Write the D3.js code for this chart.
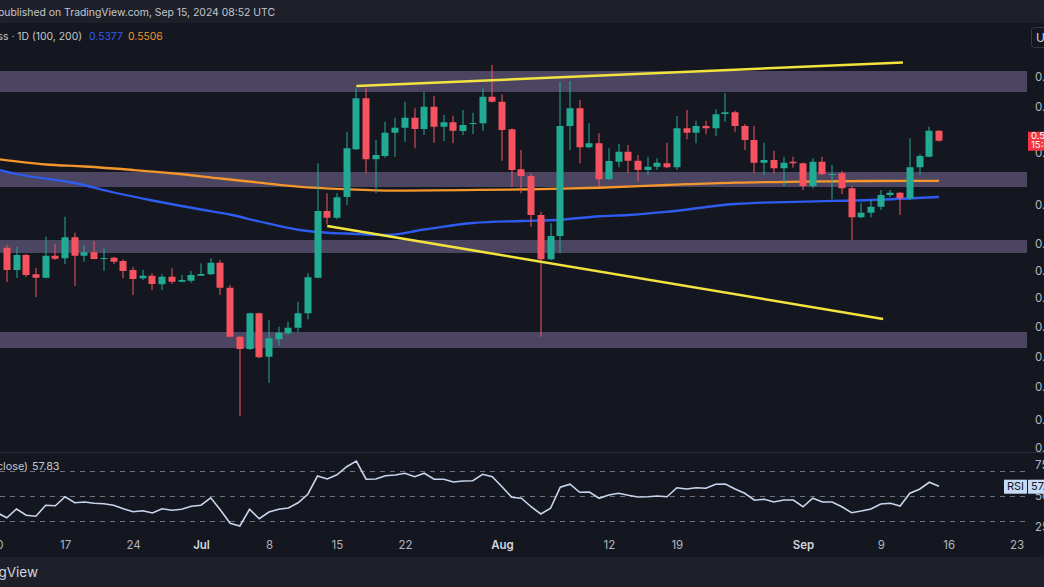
<!DOCTYPE html>
<html><head><meta charset="utf-8">
<script src="https://cdn.jsdelivr.net/npm/d3@7"></script>
<style>
html,body{margin:0;padding:0;background:#141720;overflow:hidden;}
svg{display:block;font-family:Inter,"Noto Sans",sans-serif;}
</style></head><body><svg id="c" width="1044" height="587"></svg>
<script>
// ---------------- DATA ----------------
const startDate = "2024-06-11";
const opens = [0.4971,0.4793,0.4913,0.4759,0.4731,0.4907,0.4887,0.5055,0.4907,0.4935,0.4881,0.4891,0.4865,0.4793,0.4727,0.4747,0.4679,0.4739,0.4699,0.4707,
0.4747,0.4759,0.4851,0.4651,0.4259,0.4161,0.4447,0.4099,0.4239,0.4287,0.4331,0.4447,0.4731,0.5265,0.5211,0.5377,0.5759,0.6167,0.5679,0.5705,
0.5891,0.5931,0.6011,0.5921,0.6099,0.5939,0.5975,0.5905,0.5961,0.5967,0.6179,0.6139,0.5919,0.5599,0.5545,0.5233,0.4879,0.5065,0.5945,0.6087,
0.5775,0.5807,0.5519,0.5659,0.5739,0.5667,0.5593,0.5619,0.5647,0.5615,0.5927,0.5891,0.5945,0.5927,0.6041,0.6055,0.5945,0.5833,0.5651,0.5673,
0.5607,0.5659,0.5647,0.5465,0.5659,0.5553,0.5567,0.5447,0.5215,0.5251,0.5299,0.5393,0.5411,0.5367,0.5615,0.5699,0.5907];
const highs = [0.4993,0.4977,0.4921,0.4809,0.5059,0.5001,0.5219,0.5091,0.4993,0.5025,0.4967,0.4899,0.4879,0.4819,0.4793,0.4767,0.4759,0.4807,0.4753,0.4785,
0.4847,0.4887,0.4873,0.4673,0.4265,0.4451,0.4451,0.4393,0.4339,0.4379,0.4539,0.4767,0.5647,0.5407,0.5407,0.5899,0.6247,0.6247,0.5833,0.5979,
0.6011,0.6139,0.6087,0.6215,0.6187,0.6033,0.6027,0.6073,0.6051,0.6247,0.6433,0.6199,0.5925,0.5753,0.5567,0.5259,0.5167,0.6297,0.6305,0.6153,
0.5967,0.5887,0.5767,0.5801,0.5793,0.5713,0.5699,0.5687,0.5811,0.6025,0.6073,0.5987,0.5987,0.6079,0.6207,0.6067,0.5961,0.5947,0.5811,0.5747,
0.5699,0.5699,0.5653,0.5687,0.5699,0.5633,0.5585,0.5465,0.5331,0.5353,0.5433,0.5433,0.5417,0.5847,0.5721,0.5939,0.5913];
const lows = [0.4697,0.4729,0.4737,0.4577,0.4727,0.4873,0.4841,0.4665,0.4859,0.4879,0.4787,0.4841,0.4727,0.4593,0.4713,0.4633,0.4633,0.4681,0.4695,0.4691,
0.4745,0.4753,0.4593,0.4255,0.3625,0.4153,0.4087,0.3891,0.4185,0.4273,0.4299,0.4399,0.4727,0.5159,0.5199,0.5313,0.5753,0.5567,0.5407,0.5691,
0.5699,0.5819,0.5767,0.5873,0.5811,0.5825,0.5807,0.5873,0.5881,0.5907,0.6133,0.5667,0.5459,0.5407,0.5139,0.4259,0.4873,0.4927,0.5753,0.5647,
0.5767,0.5459,0.5513,0.5615,0.5571,0.5499,0.5553,0.5593,0.5607,0.5593,0.5839,0.5807,0.5881,0.5865,0.5979,0.5899,0.5753,0.5571,0.5553,0.5567,
0.5465,0.5611,0.5433,0.5447,0.5553,0.5359,0.5401,0.5033,0.5207,0.5215,0.5273,0.5375,0.5233,0.5353,0.5553,0.5695,0.5819];
const closes = [0.4793,0.4913,0.4753,0.4731,0.4907,0.4883,0.5055,0.4907,0.4935,0.4881,0.4889,0.4859,0.4785,0.4721,0.4747,0.4681,0.4739,0.4699,0.4713,0.4753,
0.4761,0.4851,0.4651,0.4259,0.4161,0.4447,0.4095,0.4247,0.4291,0.4331,0.4447,0.4735,0.5265,0.5211,0.5375,0.5767,0.6167,0.5679,0.5713,0.5891,
0.5931,0.6011,0.5921,0.6099,0.5939,0.5975,0.5907,0.5953,0.5969,0.6179,0.6139,0.5913,0.5593,0.5545,0.5233,0.4879,0.5065,0.5945,0.6087,0.5775,
0.5807,0.5519,0.5665,0.5739,0.5667,0.5593,0.5619,0.5651,0.5615,0.5927,0.5891,0.5945,0.5927,0.6039,0.6055,0.5945,0.5833,0.5651,0.5673,0.5607,
0.5651,0.5647,0.5465,0.5659,0.5559,0.5561,0.5447,0.5215,0.5251,0.5299,0.5393,0.5411,0.5367,0.5615,0.5705,0.5907,0.5827];

const rsiStart = "2024-06-10";
const rsiValues = [36.6,
32.6,39.6,34.6,33.8,42.6,42.2,49.4,44.6,45.2,44.2,43.8,42.6,39.8,37.4,38.2,36.4,39.8,38.6,39.4,41.8,
42.6,48.6,38.8,28.2,26.0,39.4,31.8,37.2,39.4,40.4,44.6,51.4,66.0,63.6,67.0,73.4,78.0,63.4,63.6,66.2,66.8,68.2,65.4,68.2,63.4,63.4,61.2,62.0,62.2,67.4,65.4,
57.4,49.0,48.2,41.4,35.6,40.2,57.0,59.4,53.0,53.2,48.2,50.8,52.2,50.6,49.2,49.4,50.0,49.4,56.6,55.6,56.6,56.2,59.4,59.6,55.6,52.2,46.6,47.4,45.2,46.8,46.8,
41.4,48.2,45.2,45.2,41.4,36.6,38.0,39.6,43.6,44.2,42.0,52.2,55.4,61.0,57.83];

const ma100Dates = ["2024-06-10","2024-06-12","2024-06-18","2024-06-22","2024-06-26","2024-07-01","2024-07-04","2024-07-07","2024-07-11","2024-07-14","2024-07-16","2024-07-20","2024-07-24","2024-07-29","2024-08-03","2024-08-07","2024-08-11","2024-08-14","2024-08-18","2024-08-25","2024-09-01","2024-09-08","2024-09-15"];
const ma100Values = [0.5597,0.5561,0.5489,0.5413,0.5349,0.5277,0.5237,0.5181,0.5115,0.5091,0.5085,0.5073,0.5117,0.5169,0.5185,0.5195,0.5223,0.5233,0.5259,0.5321,0.5340,0.5353,0.5377];
const ma200Dates = ["2024-06-10","2024-06-15","2024-06-19","2024-06-24","2024-06-28","2024-07-03","2024-07-07","2024-07-11","2024-07-16","2024-07-21","2024-07-28","2024-08-04","2024-08-11","2024-08-18","2024-08-25","2024-09-01","2024-09-08","2024-09-15"];
const ma200Values = [0.5681,0.5637,0.5621,0.5593,0.5567,0.5525,0.5492,0.5460,0.5439,0.5428,0.5432,0.5439,0.5451,0.5473,0.5492,0.5500,0.5505,0.5506];

const zoneTops    = [0.6385,0.5577,0.5033,0.4297];
const zoneBottoms = [0.6217,0.5457,0.4929,0.4169];

const upperLineDates  = ["2024-07-17T00:00:00Z","2024-09-11T07:00:00Z"];
const upperLineValues = [0.6265,0.6453];
const lowerLineDates  = ["2024-07-14T00:00:00Z","2024-09-09T06:00:00Z"];
const lowerLineValues = [0.5145,0.4401];

const priceTicks = [0.6337,0.6097,0.5729,0.5313,0.5001,0.4785,0.4569,0.4337,0.4097,0.3857,0.3593,0.3369];
const rsiTicks = [75,50,25];
const rsiBands = [70,50,30];
const timeTickDates  = ["2024-06-10","2024-06-17","2024-06-24","2024-07-01","2024-07-08","2024-07-15","2024-07-22","2024-08-01","2024-08-12","2024-08-19","2024-09-01","2024-09-09","2024-09-16","2024-09-23"];
const timeTickLabels = ["10","17","24","Jul","8","15","22","Aug","12","19","Sep","9","16","23"];
const monthLabels = ["Jul","Aug","Sep"];

// ---------------- LAYOUT ----------------
const W = 1044, H = 587;
const chartRight = 1027;
const mainTop = 23, mainBottom = 452;
const rsiBottom = 538;
const UP = "#22ab94", DOWN = "#f7525f";
const svg = d3.select("#c");
const parse = s => new Date(s);

const x = d3.scaleUtc().domain([parse("2024-06-11"), parse("2024-09-23")]).range([6.8, 6.8 + 104 * 9.71]);
const y = d3.scaleLinear().domain([0.6953 - 0.0008 * H, 0.6953]).range([H, 0]);
const ry = d3.scaleLinear().domain([25, 75]).range([527.25, 464.75]);

const candles = opens.map((o, i) => ({date: d3.utcDay.offset(parse(startDate), i), o, h: highs[i], l: lows[i], c: closes[i]}));
const rsi = rsiValues.map((v, i) => ({date: d3.utcDay.offset(parse(rsiStart), i), v}));

// backgrounds
svg.append("rect").attr("width", W).attr("height", H).attr("fill", "#141720");
svg.append("rect").attr("width", W).attr("height", mainTop).attr("fill", "#1d2029");
svg.append("rect").attr("y", 557).attr("width", W).attr("height", H - 557).attr("fill", "#1d2029");
svg.append("line").attr("x1", 0).attr("x2", W).attr("y1", mainBottom + 0.5).attr("y2", mainBottom + 0.5).attr("stroke", "#2a2e39");

const defs = svg.append("defs");
defs.append("clipPath").attr("id", "mainClip").append("rect").attr("x", 0).attr("y", mainTop).attr("width", chartRight).attr("height", mainBottom - mainTop);
defs.append("clipPath").attr("id", "rsiClip").append("rect").attr("x", 0).attr("y", mainBottom + 1).attr("width", chartRight).attr("height", rsiBottom - mainBottom - 1);

const main = svg.append("g").attr("clip-path", "url(#mainClip)");

// zones
main.selectAll("rect.zone").data(zoneTops).join("rect").attr("class", "zone")
  .attr("x", 0).attr("width", chartRight)
  .attr("y", d => y(d)).attr("height", (d, i) => y(zoneBottoms[i]) - y(d))
  .attr("fill", "#4b4562");

// MAs
const maLine = d3.line().x(d => x(d[0])).y(d => y(d[1])).curve(d3.curveMonotoneX);
main.append("path").datum(ma200Dates.map((d, i) => [parse(d), ma200Values[i]]))
  .attr("d", maLine).attr("fill", "none").attr("stroke", "#f4962c").attr("stroke-width", 2.3);
main.append("path").datum(ma100Dates.map((d, i) => [parse(d), ma100Values[i]]))
  .attr("d", maLine).attr("fill", "none").attr("stroke", "#2f5cf0").attr("stroke-width", 2.3);

// candles
const cg = main.selectAll("g.candle").data(candles).join("g").attr("class", "candle");
cg.append("rect")
  .attr("x", d => Math.round(x(d.date)) - 0.5).attr("width", 1)
  .attr("y", d => y(d.h)).attr("height", d => Math.max(1, y(d.l) - y(d.h)))
  .attr("fill", d => d.c >= d.o ? UP : DOWN);
cg.append("rect")
  .attr("x", d => Math.round(x(d.date)) - 3.5).attr("width", 7)
  .attr("y", d => y(Math.max(d.o, d.c))).attr("height", d => Math.max(1, Math.abs(y(d.o) - y(d.c))))
  .attr("fill", d => d.c >= d.o ? UP : DOWN);

// trend lines
const tl = d3.line().x(d => x(d[0])).y(d => y(d[1]));
main.append("path").datum(upperLineDates.map((d, i) => [parse(d), upperLineValues[i]]))
  .attr("d", tl).attr("stroke", "#f2e33f").attr("stroke-width", 2.5).attr("fill", "none");
main.append("path").datum(lowerLineDates.map((d, i) => [parse(d), lowerLineValues[i]]))
  .attr("d", tl).attr("stroke", "#f2e33f").attr("stroke-width", 2.5).attr("fill", "none");

// RSI pane
const rg = svg.append("g").attr("clip-path", "url(#rsiClip)");
rg.selectAll("line.band").data(rsiBands).join("line").attr("class", "band")
  .attr("x1", 0).attr("x2", chartRight).attr("y1", d => Math.round(ry(d)) + 0.5).attr("y2", d => Math.round(ry(d)) + 0.5)
  .attr("stroke", "#70737e").attr("stroke-dasharray", "5,5").attr("stroke-width", 1);
rg.append("path").datum(rsi)
  .attr("d", d3.line().x(d => x(d.date)).y(d => ry(d.v)))
  .attr("fill", "none").attr("stroke", "#c8d5ec").attr("stroke-width", 1.6);

// price axis
const pAxis = svg.append("g").attr("transform", "translate(1035,0)")
  .call(d3.axisRight(y).tickValues(priceTicks).tickSize(0).tickPadding(0).tickFormat(d3.format(".4f")));
pAxis.select(".domain").remove();
pAxis.selectAll("text").attr("fill", "#b2b5be").style("font-size", "11.5px").style("font-family", "Inter, sans-serif");

// RSI axis
const rAxis = svg.append("g").attr("transform", "translate(1035,0)")
  .call(d3.axisRight(ry).tickValues(rsiTicks).tickSize(0).tickPadding(0).tickFormat(d3.format("d")));
rAxis.select(".domain").remove();
rAxis.selectAll("text").attr("fill", "#b2b5be").style("font-size", "11.5px").style("font-family", "Inter, sans-serif");

// time axis
const tAxis = svg.append("g").attr("transform", "translate(0,538)")
  .call(d3.axisBottom(x).tickValues(timeTickDates.map(parse)).tickSize(0).tickPadding(3)
    .tickFormat((d, i) => timeTickLabels[i]));
tAxis.select(".domain").remove();
tAxis.selectAll("text").style("font-size", "11.5px").style("font-family", "Inter, sans-serif")
  .attr("fill", (d, i) => monthLabels.includes(timeTickLabels[i]) ? "#d1d4dc" : "#b2b5be")
  .style("font-weight", (d, i) => monthLabels.includes(timeTickLabels[i]) ? 600 : 400);

// last price label
const last = candles[candles.length - 1];
const ly = y(last.c);
svg.append("rect").attr("x", 1028).attr("y", ly - 9).attr("width", 20).attr("height", 19).attr("fill", "#f23645");
svg.append("text").attr("x", 1031).attr("y", ly - 1.5).attr("fill", "#fff").style("font-size", "9.5px").text(d3.format(".4f")(last.c));
svg.append("text").attr("x", 1031).attr("y", ly + 7.5).attr("fill", "#fff").style("font-size", "9.5px").text("15:07:48");

// RSI value label
const lr = rsi[rsi.length - 1];
const lry = ry(lr.v);
svg.append("rect").attr("x", 1004).attr("y", lry - 6.5).attr("width", 23).attr("height", 14).attr("fill", "#c6dcf6");
svg.append("text").attr("x", 1015.5).attr("y", lry + 4).attr("text-anchor", "middle").attr("fill", "#131722").style("font-size", "11px").text("RSI");
svg.append("rect").attr("x", 1028).attr("y", lry - 6.5).attr("width", 20).attr("height", 14).attr("fill", "#c6dcf6");
svg.append("text").attr("x", 1031).attr("y", lry + 4).attr("fill", "#131722").style("font-size", "11px").text(d3.format(".2f")(lr.v));

// currency button
svg.append("rect").attr("x", 1031.5).attr("y", 27.5).attr("width", 20).attr("height", 20).attr("rx", 3).attr("fill", "none").attr("stroke", "#363a45");
svg.append("text").attr("x", 1036).attr("y", 42).attr("fill", "#d1d4dc").style("font-size", "12px").text("USDT");

// header texts
svg.append("text").attr("x", 275).attr("y", 16).attr("text-anchor", "end").attr("fill", "#c3c6ce").style("font-size", "10.4px")
  .text("CryptoPotato published on TradingView.com, Sep 15, 2024 08:52 UTC");
svg.append("text").attr("x", 82).attr("y", 40).attr("text-anchor", "end").attr("fill", "#c3c6ce").style("font-size", "10.4px")
  .text("MA Cross · 1D (100, 200)");
svg.append("text").attr("x", 89).attr("y", 40).attr("fill", "#2f5cf0").style("font-size", "10.4px").text(d3.format(".4f")(ma100Values[ma100Values.length - 1]));
svg.append("text").attr("x", 128).attr("y", 40).attr("fill", "#f4962c").style("font-size", "10.4px").text(d3.format(".4f")(ma200Values[ma200Values.length - 1]));

// RSI legend
svg.append("text").attr("x", 28).attr("y", 470).attr("text-anchor", "end").attr("fill", "#c3c6ce").style("font-size", "10.8px").text("RSI (14, close)");
svg.append("text").attr("x", 32).attr("y", 470).attr("fill", "#c3c6ce").style("font-size", "10.8px").text(d3.format(".2f")(lr.v));

// footer
svg.append("text").attr("x", 38).attr("y", 577).attr("text-anchor", "end").attr("fill", "#d1d4dc").style("font-size", "13.5px").text("TradingView");
</script></body></html>
